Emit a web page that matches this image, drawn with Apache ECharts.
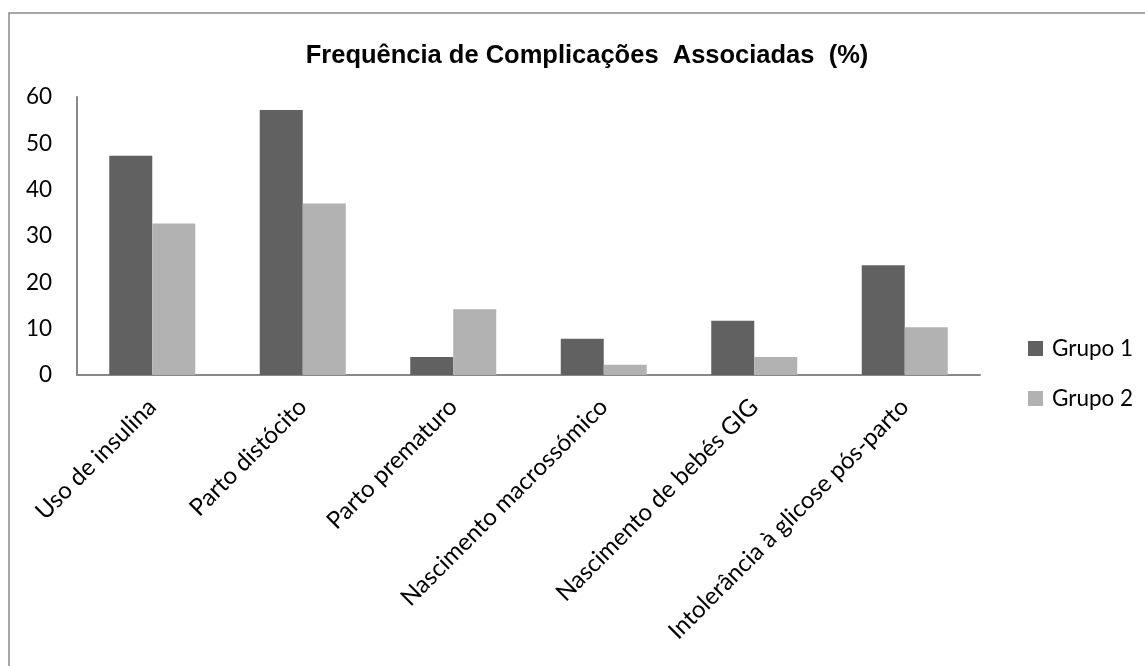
<!DOCTYPE html>
<html>
<head>
<meta charset="utf-8">
<script src="https://cdn.jsdelivr.net/npm/echarts@6/dist/echarts.min.js"></script>
<style>
  html, body { margin: 0; padding: 0; background: #fff; }
  #chart { width: 1145px; height: 666px; }
</style>
</head>
<body>
<div id="chart"></div>
<script>
// data
const categories = ['Uso de insulina', 'Parto distócito', 'Parto prematuro',
  'Nascimento macrossómico', 'Nascimento de bebés GIG', 'Intolerância à glicose pós-parto'];
const grupo1 = [47.3, 57.2, 3.9, 7.8, 11.7, 23.7];
const grupo2 = [32.7, 37.0, 14.2, 2.2, 3.9, 10.3];
const yTicks = { min: 0, max: 60, interval: 10 };

const labelFont = 'Lato, "Open Sans", sans-serif';

const chart = echarts.init(document.getElementById('chart'));
chart.setOption({
  backgroundColor: '#fff',
  animation: false,
  title: {
    text: 'Frequência de Complicações  Associadas  (%)',
    left: 582,
    textAlign: 'center',
    top: 38,
    textStyle: { fontFamily: '"Liberation Sans", Arial, sans-serif', fontWeight: 'bold', fontSize: 25.5, color: '#000' }
  },
  legend: {
    orient: 'vertical',
    left: 1023,
    top: 332,
    itemWidth: 15,
    itemHeight: 15,
    itemGap: 27,
    icon: 'rect',
    textStyle: { fontFamily: labelFont, fontSize: 22.5, lineHeight: 22, color: '#000', padding: [0, 0, 0, 4] },
    data: ['Grupo 1', 'Grupo 2']
  },
  grid: { left: 77, right: 165, top: 97, bottom: 291 },
  xAxis: {
    type: 'category',
    data: categories,
    axisLine: { lineStyle: { color: '#888', width: 2 } },
    axisTick: { show: false },
    axisLabel: { rotate: 45, interval: 0, margin: 28, color: '#000', fontFamily: labelFont, fontSize: 24 }
  },
  yAxis: {
    type: 'value',
    min: yTicks.min,
    max: yTicks.max,
    interval: yTicks.interval,
    splitLine: { show: false },
    axisLine: { show: true, lineStyle: { color: '#888', width: 2 } },
    axisTick: { show: false },
    axisLabel: { margin: 25, color: '#000', fontFamily: labelFont, fontSize: 22.5 }
  },
  series: [
    { name: 'Grupo 1', type: 'bar', data: grupo1, barWidth: 43, barGap: '0%',
      itemStyle: { color: '#616161' } },
    { name: 'Grupo 2', type: 'bar', data: grupo2, barWidth: 43,
      itemStyle: { color: '#b2b2b2' } }
  ],
  graphic: [{
    type: 'rect',
    shape: { x: 9, y: 13, width: 1150, height: 670 },
    style: { fill: 'none', stroke: '#8a8a8a', lineWidth: 1.5 },
    silent: true
  }]
});
window.addEventListener('resize', () => chart.resize());
</script>
</body>
</html>
